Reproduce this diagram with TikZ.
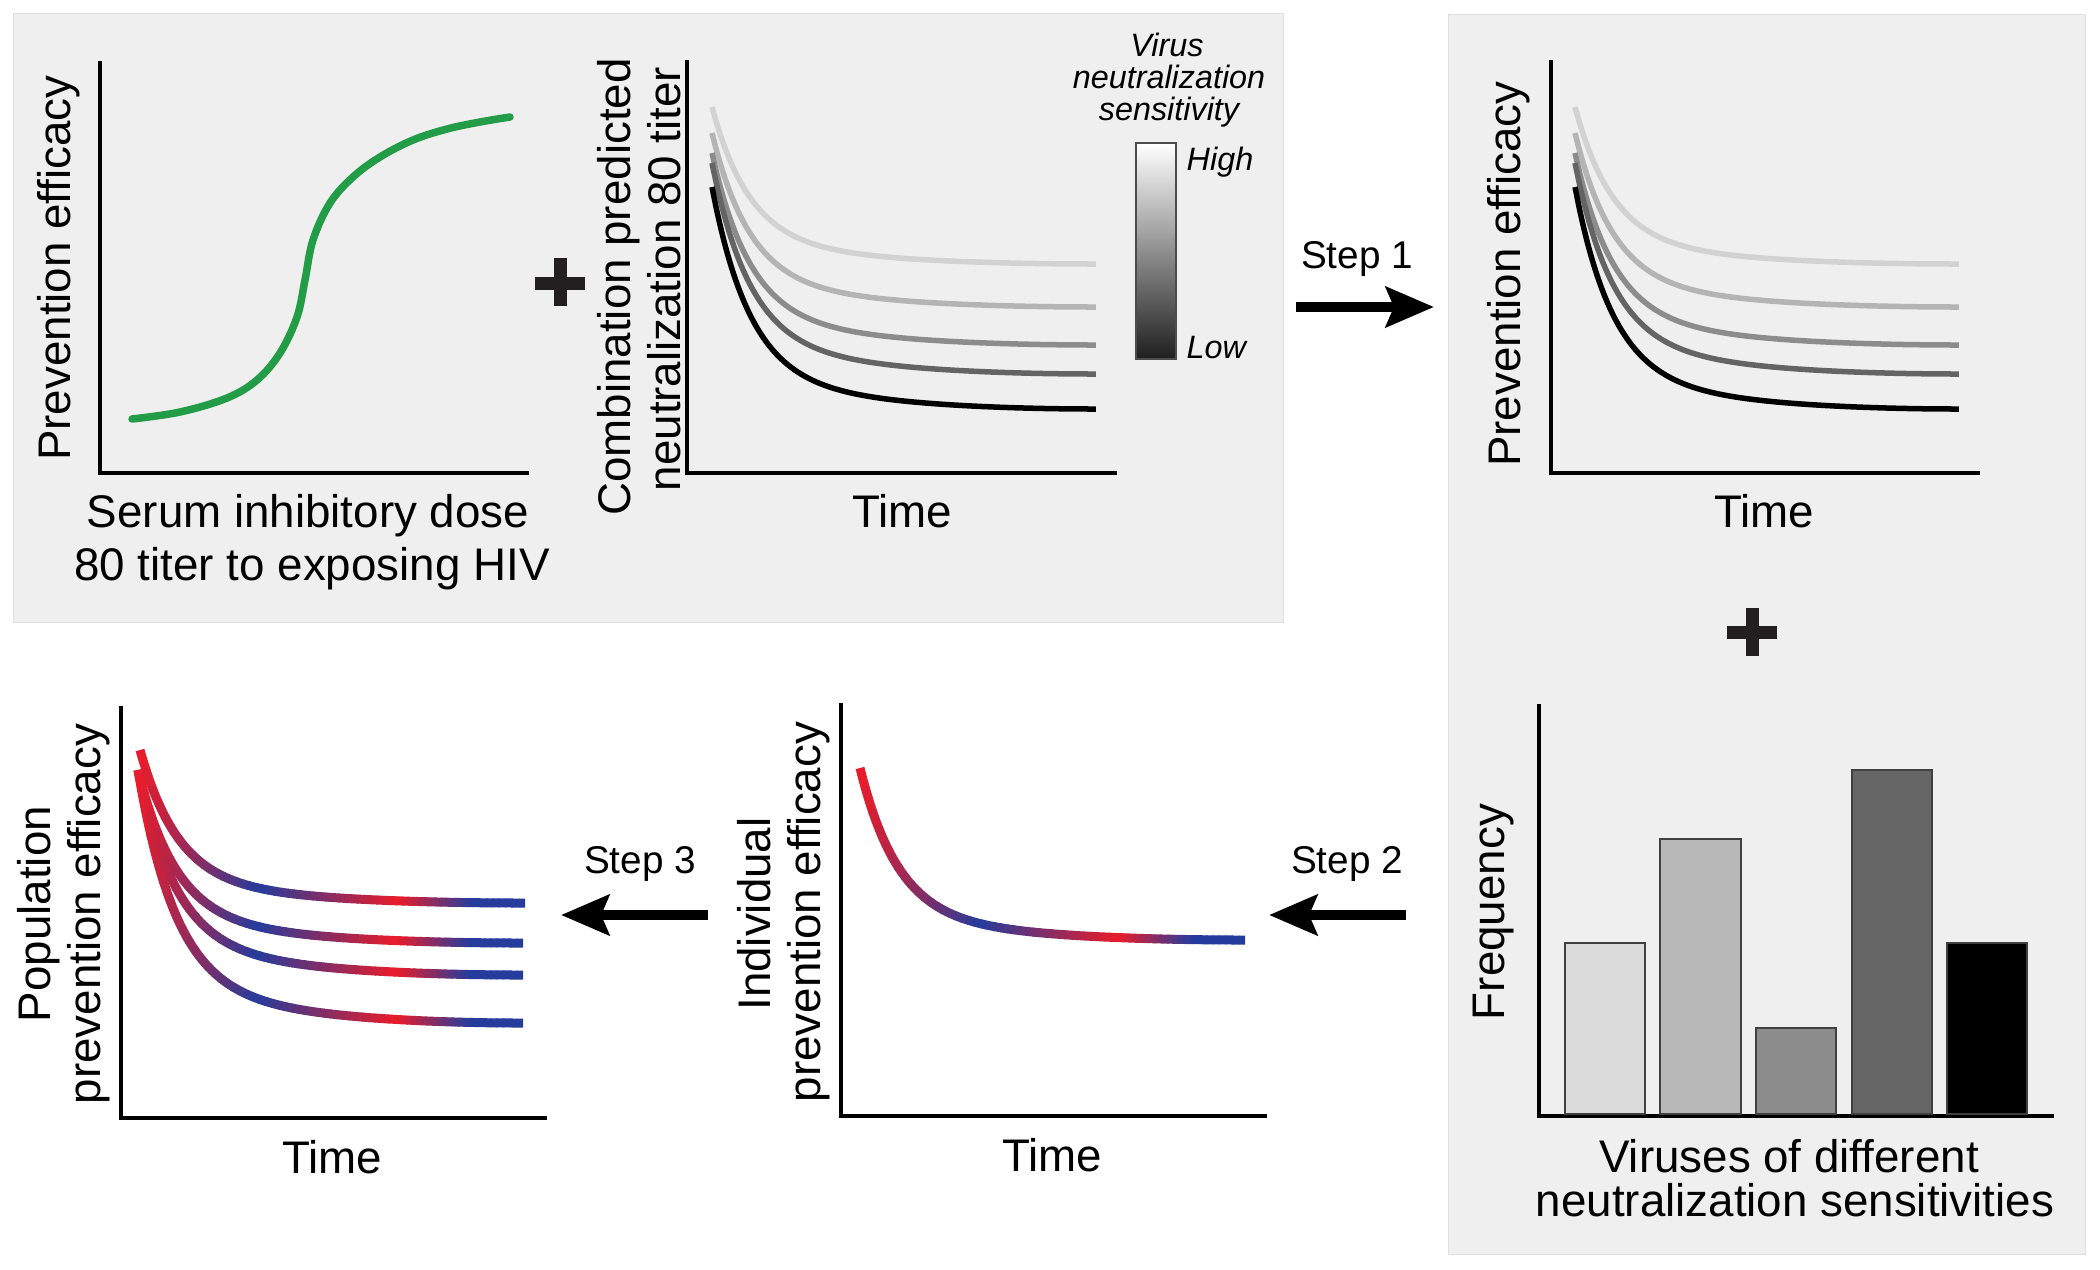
\documentclass[tikz,border=0pt]{standalone}
\usepackage{fontspec}
\setmainfont{Liberation Sans}
\usetikzlibrary{arrows.meta}

\definecolor{panelgray}{RGB}{239,239,239}
\definecolor{sigmoidgreen}{RGB}{34,156,70}
\definecolor{curvered}{RGB}{236,28,40}
\definecolor{curveblue}{RGB}{38,60,156}
\definecolor{plusblack}{RGB}{35,31,32}
\definecolor{titerA}{RGB}{210,210,210}
\definecolor{titerB}{RGB}{180,180,180}
\definecolor{titerC}{RGB}{140,140,140}
\definecolor{titerD}{RGB}{100,100,100}
\definecolor{titerE}{RGB}{0,0,0}

% red/blue curve drawn piece by piece: x0, y at start, y at end
\newcommand{\rbcurve}[3]{%
	\foreach \i in {0,...,59}{%
		\pgfmathsetmacro{\ta}{\i/60}%
		\pgfmathsetmacro{\tb}{(\i+1)/60}%
		\pgfmathtruncatemacro{\rf}{redfrac((\i+0.5)/60)}%
		\def\capkind{round}\ifnum\i=0 \def\capkind{butt}\fi\ifnum\i=59 \def\capkind{butt}\fi
		\draw[rbline, line cap=\capkind, curvered!\rf!curveblue] plot[domain=\ta:\tb, samples=3] ({#1+385*\x}, {#3-(#3-#2)*decay(\x)});
	}}

\begin{document}
\begin{tikzpicture}%
	[x={(0.01cm,0cm)},
	y={(0cm,-0.01cm)},
	declare function={decay(\t)=0.88*exp(-\t/0.1)+0.12*(1-\t)^2;
		redfrac(\t)=ifthenelse(\t<0.32,100*(1-\t/0.32),ifthenelse(\t<0.68,100*(\t-0.32)/0.36,ifthenelse(\t<0.87,100*(0.87-\t)/0.19,0)));},
	panel/.style={fill=panelgray, draw=black!12, line width=0.01cm},
	axisline/.style={line width=0.045cm},
	titer/.style={line width=0.055cm},
	rbline/.style={line width=0.09cm},
	axtext/.style={inner sep=0pt, font=\fontsize{13pt}{15pt}\selectfont},
	steptext/.style={inner sep=0pt, font=\fontsize{11pt}{13pt}\selectfont},
	legtext/.style={inner sep=0pt, font=\fontsize{9.2pt}{9.4pt}\selectfont\itshape},
	steparrow/.style={line width=0.1cm, -{Stealth[length=0.48cm, width=0.40cm, inset=0.08cm]}},
	plusbar/.style={line width=0.13cm, plusblack},
	barbox/.style={draw=black!75, line width=0.015cm}]
%
\useasboundingbox (0,0) rectangle (2100,1269);
%
%% Panels
\fill[panel] (13,13) rectangle (1283,622);
\fill[panel] (1448,14) rectangle (2085,1254);
%
%% Plot 1: efficacy against titer
\draw[axisline] (100,61) |- (529,473);
\draw[sigmoidgreen, line width=0.075cm, line cap=round] plot[smooth, tension=0.6] coordinates
	{(132,419) (180,412) (227,398) (257,380) (280,353) (297,317) (305,280) (313,240)
	 (330,203) (353,177) (380,157) (413,140) (447,129) (480,122) (510,117)};
\node[axtext, rotate=90, anchor=base] (effA) at (70,268) {Prevention efficacy};
\node[axtext, anchor=base] (serumA) at (308,527) {Serum inhibitory dose};
\node[axtext, anchor=base] (serumB) at (312,580) {80 titer to exposing HIV};
%
\draw[plusbar] (535,283) -- (585,283);
\draw[plusbar] (560,258) -- (560,306);
%
%% Plot 2: titer against time
\draw[axisline] (687,60) |- (1117,473);
\draw[titer, titerA] plot[domain=0:1, samples=90, smooth] ({712+384*\x}, {264-157*decay(\x)});
\draw[titer, titerB] plot[domain=0:1, samples=90, smooth] ({712+384*\x}, {307-174*decay(\x)});
\draw[titer, titerC] plot[domain=0:1, samples=90, smooth] ({712+384*\x}, {345-192*decay(\x)});
\draw[titer, titerD] plot[domain=0:1, samples=90, smooth] ({712+384*\x}, {374-211*decay(\x)});
\draw[titer, titerE] plot[domain=0:1, samples=90, smooth] ({712+384*\x}, {409-222*decay(\x)});
\node[axtext, rotate=90, anchor=base] (comboA) at (630,287) {Combination predicted};
\node[axtext, rotate=90, anchor=base] (comboB) at (680,279) {neutralization 80 titer};
\node[axtext, anchor=base] (timeA) at (902,527) {Time};
%
%% Sensitivity scale
\shade[top color=white, bottom color=black!88] (1136,143) rectangle (1176,359);
\draw[black!70, line width=0.012cm] (1136,143) rectangle (1176,359);
\node[legtext, anchor=base] (legA) at (1167,56) {Virus};
\node[legtext, anchor=base] (legB) at (1169,88) {neutralization};
\node[legtext, anchor=base] (legC) at (1169,120) {sensitivity};
\node[legtext, anchor=base west] (high) at (1186,170) {High};
\node[legtext, anchor=base west] (low) at (1186,358) {Low};
%
%% Step 1
\coordinate (stepAfrom) at (1296,307);
\coordinate (stepAto) at (1434,307);
\draw[steparrow] (stepAfrom) -- (stepAto);
\node[steptext, anchor=base] (stepA) at (1357,268) {Step 1};
%
%% Plot 3: efficacy against time
\draw[axisline] (1551,60) |- (1980,473);
\draw[titer, titerA] plot[domain=0:1, samples=90, smooth] ({1575+384*\x}, {264-157*decay(\x)});
\draw[titer, titerB] plot[domain=0:1, samples=90, smooth] ({1575+384*\x}, {307-174*decay(\x)});
\draw[titer, titerC] plot[domain=0:1, samples=90, smooth] ({1575+384*\x}, {345-192*decay(\x)});
\draw[titer, titerD] plot[domain=0:1, samples=90, smooth] ({1575+384*\x}, {374-211*decay(\x)});
\draw[titer, titerE] plot[domain=0:1, samples=90, smooth] ({1575+384*\x}, {409-222*decay(\x)});
\node[axtext, rotate=90, anchor=base] (effB) at (1520,274) {Prevention efficacy};
\node[axtext, anchor=base] (timeB) at (1764,527) {Time};
%
\draw[plusbar] (1727,632) -- (1777,632);
\draw[plusbar] (1752,608) -- (1752,656);
%
%% Plot 4: frequency of viruses
\draw[axisline] (1539,704) |- (2054,1116);
\fill[barbox, fill=black!14] (1565,943) rectangle (1645,1114);
\fill[barbox, fill=black!28] (1660,839) rectangle (1741,1114);
\fill[barbox, fill=black!45] (1756,1028) rectangle (1836,1114);
\fill[barbox, fill=black!60] (1852,770) rectangle (1932,1114);
\fill[barbox, fill=black] (1947,943) rectangle (2027,1114);
\draw[barbox] (1565,943) rectangle (1645,1114);
\draw[barbox] (1660,839) rectangle (1741,1114);
\draw[barbox] (1756,1028) rectangle (1836,1114);
\draw[barbox] (1852,770) rectangle (1932,1114);
\node[axtext, rotate=90, anchor=base] (freq) at (1504,912) {Frequency};
\node[axtext, anchor=base] (virA) at (1789,1172) {Viruses of different};
\node[axtext, anchor=base] (virB) at (1795,1216) {neutralization sensitivities};
%
%% Step 2
\coordinate (stepBfrom) at (1406,915);
\coordinate (stepBto) at (1269,915);
\draw[steparrow] (stepBfrom) -- (stepBto);
\node[steptext, anchor=base] (stepB) at (1347,873) {Step 2};
%
%% Plot 5: individual efficacy
\draw[axisline] (841,703) |- (1267,1116);
\rbcurve{860}{768}{940}
\node[axtext, rotate=90, anchor=base] (indA) at (770,914) {Individual};
\node[axtext, rotate=90, anchor=base] (indB) at (820,912) {prevention efficacy};
\node[axtext, anchor=base] (timeC) at (1052,1171) {Time};
%
%% Step 3
\coordinate (stepCfrom) at (708,915);
\coordinate (stepCto) at (561,915);
\draw[steparrow] (stepCfrom) -- (stepCto);
\node[steptext, anchor=base] (stepC) at (640,873) {Step 3};
%
%% Plot 6: population efficacy
\draw[axisline] (121,706) |- (547,1118);
\rbcurve{138}{770}{1023}
\rbcurve{138}{770}{975}
\rbcurve{138}{770}{943}
\rbcurve{140}{750}{903}
\node[axtext, rotate=90, anchor=base] (popA) at (50,914) {Population};
\node[axtext, rotate=90, anchor=base] (popB) at (100,914) {prevention efficacy};
\node[axtext, anchor=base] (timeD) at (332,1173) {Time};
%
\end{tikzpicture}
\end{document}
